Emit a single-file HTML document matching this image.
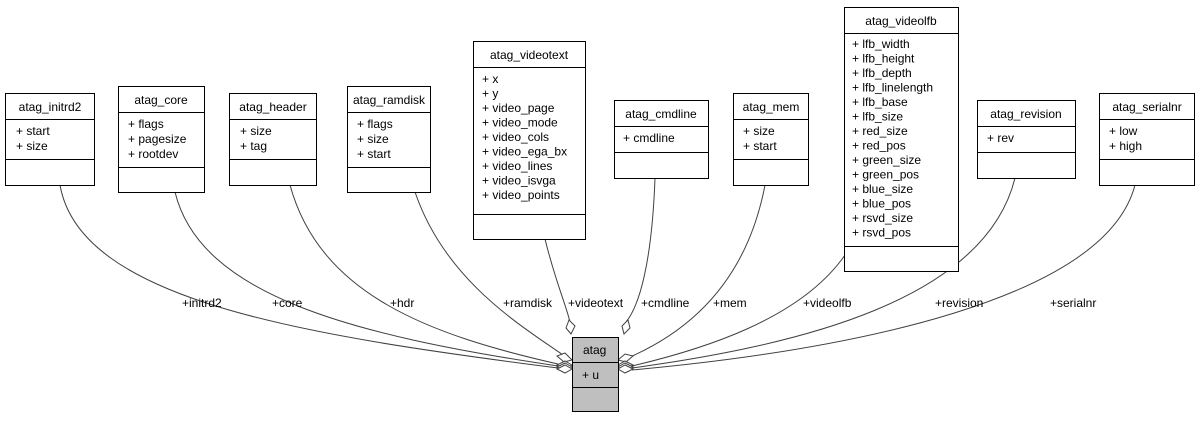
<!DOCTYPE html>
<html><head><meta charset="utf-8"><style>
body{margin:0;background:#fff;}
svg text{font-family:"Liberation Sans",sans-serif;font-size:12px;fill:#000;}
</style></head><body>
<svg width="1201" height="419" xmlns="http://www.w3.org/2000/svg">
<g fill="none" stroke="#404040" stroke-width="1">
<path d="M60,185 C80,300 300,335 558,368"/>
<path d="M175,192 C200,295 350,335 558,366"/>
<path d="M290,185 C320,295 430,335 558,364"/>
<path d="M415,192 C445,280 520,325 563,355"/>
<path d="M545,239 C555,280 566,305 570,322"/>
<path d="M655,178 C652,260 640,305 626,322"/>
<path d="M765,185 C745,290 680,335 630,357"/>
<path d="M845,255 C800,320 700,350 632,366"/>
<path d="M1015,178 C985,300 800,345 632,368"/>
<path d="M1135,185 C1105,300 850,350 632,370"/>
</g>
<g fill="#fff" stroke="#404040">
<polygon points="571,334 566,328 569,320 575,326"/>
<polygon points="624,334 622,326 628,320 630,328"/>
<polygon points="572,360 565,353 557,356 564,362"/>
<polygon points="572,365 565,361 557,365 565,369"/>
<polygon points="572,367 565,363 557,367 565,371"/>
<polygon points="572,369 565,365 557,369 565,373"/>
<polygon points="618,360 625,354 633,356 626,362"/>
<polygon points="618,365 625,361 633,365 625,369"/>
<polygon points="618,367 625,363 633,367 625,371"/>
<polygon points="618,369 625,365 633,369 625,373"/>
</g>
<g font-size="12">
<text x="182" y="307">+initrd2</text>
<text x="272" y="307">+core</text>
<text x="390" y="307">+hdr</text>
<text x="503" y="307">+ramdisk</text>
<text x="568" y="307">+videotext</text>
<text x="641" y="307">+cmdline</text>
<text x="713" y="307">+mem</text>
<text x="803" y="307">+videolfb</text>
<text x="935" y="307">+revision</text>
<text x="1050" y="307">+serialnr</text>
</g>
<g fill="#fff" stroke="#000">
<rect x="5.5" y="93.5" width="89" height="92"/><line x1="5" y1="119.5" x2="95" y2="119.5"/><line x1="5" y1="159.5" x2="95" y2="159.5"/>
<rect x="118.5" y="86.5" width="86" height="106"/><line x1="118" y1="112.5" x2="205" y2="112.5"/><line x1="118" y1="167.5" x2="205" y2="167.5"/>
<rect x="229.5" y="93.5" width="87" height="92"/><line x1="229" y1="119.5" x2="317" y2="119.5"/><line x1="229" y1="159.5" x2="317" y2="159.5"/>
<rect x="347.5" y="86.5" width="83" height="106"/><line x1="347" y1="112.5" x2="431" y2="112.5"/><line x1="347" y1="167.5" x2="431" y2="167.5"/>
<rect x="473.5" y="41.5" width="112" height="198"/><line x1="473" y1="67.5" x2="586" y2="67.5"/><line x1="473" y1="214.5" x2="586" y2="214.5"/>
<rect x="614.5" y="100.5" width="94" height="78"/><line x1="614" y1="126.5" x2="709" y2="126.5"/><line x1="614" y1="152.5" x2="709" y2="152.5"/>
<rect x="733.5" y="93.5" width="75" height="92"/><line x1="733" y1="119.5" x2="809" y2="119.5"/><line x1="733" y1="159.5" x2="809" y2="159.5"/>
<rect x="844.5" y="7.5" width="114" height="264"/><line x1="844" y1="33.5" x2="959" y2="33.5"/><line x1="844" y1="246.5" x2="959" y2="246.5"/>
<rect x="977.5" y="100.5" width="98" height="78"/><line x1="977" y1="126.5" x2="1076" y2="126.5"/><line x1="977" y1="152.5" x2="1076" y2="152.5"/>
<rect x="1099.5" y="93.5" width="95" height="92"/><line x1="1099" y1="119.5" x2="1195" y2="119.5"/><line x1="1099" y1="159.5" x2="1195" y2="159.5"/>
</g>
<rect x="572.5" y="337.5" width="46" height="74" fill="#bfbfbf" stroke="#000"/>
<line x1="572" y1="362.5" x2="619" y2="362.5" stroke="#000"/><line x1="572" y1="387.5" x2="619" y2="387.5" stroke="#000"/>
<text x="583" y="354">atag</text><text x="582" y="379">+ u</text>
<text x="50" y="111" text-anchor="middle">atag_initrd2</text>
<text x="16" y="135">+ start</text><text x="16" y="150">+ size</text>
<text x="161" y="104" text-anchor="middle">atag_core</text>
<text x="128" y="128">+ flags</text><text x="128" y="143">+ pagesize</text><text x="128" y="158">+ rootdev</text>
<text x="273" y="111" text-anchor="middle">atag_header</text>
<text x="240" y="135">+ size</text><text x="240" y="150">+ tag</text>
<text x="389" y="104" text-anchor="middle">atag_ramdisk</text>
<text x="357" y="128">+ flags</text><text x="357" y="143">+ size</text><text x="357" y="158">+ start</text>
<text x="529" y="59" text-anchor="middle">atag_videotext</text>
<g><text x="482" y="83">+ x</text><text x="482" y="97.5">+ y</text><text x="482" y="112">+ video_page</text><text x="482" y="126.5">+ video_mode</text><text x="482" y="141">+ video_cols</text><text x="482" y="155.5">+ video_ega_bx</text><text x="482" y="170">+ video_lines</text><text x="482" y="184.5">+ video_isvga</text><text x="482" y="199">+ video_points</text></g>
<text x="661" y="118" text-anchor="middle">atag_cmdline</text>
<text x="623" y="142">+ cmdline</text>
<text x="771" y="111" text-anchor="middle">atag_mem</text>
<text x="743" y="135">+ size</text><text x="743" y="150">+ start</text>
<text x="901" y="25" text-anchor="middle">atag_videolfb</text>
<g><text x="852" y="48">+ lfb_width</text><text x="852" y="62.5">+ lfb_height</text><text x="852" y="77">+ lfb_depth</text><text x="852" y="91.5">+ lfb_linelength</text><text x="852" y="106">+ lfb_base</text><text x="852" y="120.5">+ lfb_size</text><text x="852" y="135">+ red_size</text><text x="852" y="149.5">+ red_pos</text><text x="852" y="164">+ green_size</text><text x="852" y="178.5">+ green_pos</text><text x="852" y="193">+ blue_size</text><text x="852" y="207.5">+ blue_pos</text><text x="852" y="222">+ rsvd_size</text><text x="852" y="236.5">+ rsvd_pos</text></g>
<text x="1026" y="118" text-anchor="middle">atag_revision</text>
<text x="987" y="142">+ rev</text>
<text x="1147" y="111" text-anchor="middle">atag_serialnr</text>
<text x="1109" y="135">+ low</text><text x="1109" y="150">+ high</text>
</svg>
</body></html>
